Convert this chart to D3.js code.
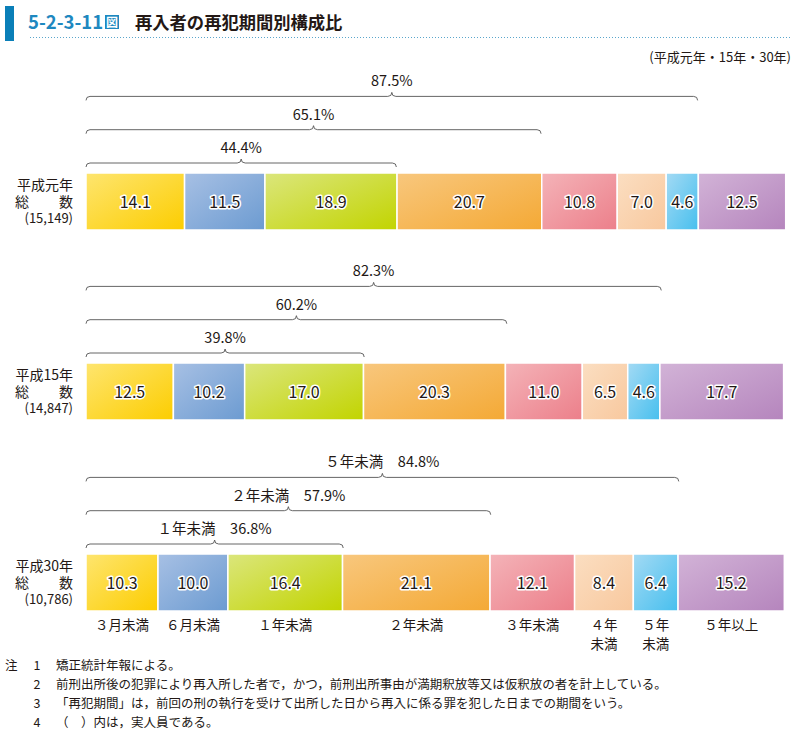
<!DOCTYPE html>
<html><head><meta charset="utf-8">
<script src="https://cdn.jsdelivr.net/npm/d3@7"></script>
<style>
body{margin:0;background:#fff;}
text{font-family:"Noto Sans CJK JP","Noto Sans",sans-serif;}
</style></head>
<body>
<script>
const years = ["平成元年","平成15年","平成30年"];
const totals = ["(15,149)","(14,847)","(10,786)"];
const periods = ["３月未満","６月未満","１年未満","２年未満","３年未満","４年\n未満","５年\n未満","５年以上"];
const values1 = [14.1,11.5,18.9,20.7,10.8,7.0,4.6,12.5];
const values15 = [12.5,10.2,17.0,20.3,11.0,6.5,4.6,17.7];
const values30 = [10.3,10.0,16.4,21.1,12.1,8.4,6.4,15.2];
const brackets1 = [44.4,65.1,87.5];
const brackets15 = [39.8,60.2,82.3];
const brackets30 = [36.8,57.9,84.8];
const bracketPrefix30 = ["１年未満　","２年未満　","５年未満　"];
const colorsLight = ["#fee56f","#a7c0e4","#dbe67c","#f8c77d","#f4b3b8","#fbdec1","#a3daf4","#d2b3d7"];
const colorsDark  = ["#fccd00","#6c9bd1","#c2d400","#f4a935","#ec7f8a","#f8c89e","#47bfee","#b585bd"];
const notes = ["矯正統計年報による。","前刑出所後の犯罪により再入所した者で，かつ，前刑出所事由が満期釈放等又は仮釈放の者を計上している。","「再犯期間」は，前回の刑の執行を受けて出所した日から再入に係る罪を犯した日までの期間をいう。","（　）内は，実人員である。"];

const rows = [
  {year:years[0], total:totals[0], values:values1, brackets:brackets1, prefix:["","",""], top:173},
  {year:years[1], total:totals[1], values:values15, brackets:brackets15, prefix:["","",""], top:363},
  {year:years[2], total:totals[2], values:values30, brackets:brackets30, prefix:bracketPrefix30, top:554}
];

const W=796,H=732;
const svg = d3.select("body").append("svg").attr("width",W).attr("height",H);
const defs = svg.append("defs");
colorsLight.forEach((c,i)=>{
  const g = defs.append("linearGradient").attr("id","g"+i).attr("x1",0).attr("y1",0).attr("x2",1).attr("y2",1);
  g.append("stop").attr("offset","0%").attr("stop-color",c);
  g.append("stop").attr("offset","100%").attr("stop-color",colorsDark[i]);
});

// Title
svg.append("rect").attr("x",5).attr("y",6).attr("width",9).attr("height",35).attr("fill","#0a7fb8");
svg.append("text").attr("x",28).attr("y",29).attr("font-size",18.5).attr("font-weight","bold").attr("fill","#1e88c0").text("5-2-3-11");
svg.append("rect").attr("x",105).attr("y",15).attr("width",14).attr("height",14).attr("fill","#1e88c0");
svg.append("text").attr("x",112).attr("y",27).attr("text-anchor","middle").attr("font-size",12).attr("font-weight","bold").attr("fill","#fff").text("図");
svg.append("text").attr("x",135).attr("y",29).attr("font-size",17.3).attr("font-weight","bold").attr("fill","#231815").text("再入者の再犯期間別構成比");
svg.append("line").attr("x1",30).attr("x2",792).attr("y1",37.5).attr("y2",37.5).attr("stroke","#5aa6cc").attr("stroke-width",1).attr("stroke-dasharray","1,2");
svg.append("text").attr("x",791).attr("y",62).attr("text-anchor","end").attr("font-size",13).attr("fill","#231815").text("(平成元年・15年・30年)");

const x = d3.scaleLinear().domain([0,100]).range([86,785]);
const barH = 57;

function bracePath(x0,x1,y){
  const m=(x0+x1)/2, r=4;
  return `M${x0},${y+4} Q${x0},${y} ${x0+r},${y} L${m-4},${y} Q${m},${y} ${m},${y-4} Q${m},${y} ${m+4},${y} L${x1-r},${y} Q${x1},${y} ${x1},${y+4}`;
}

rows.forEach((row,ri)=>{
  const g = svg.append("g");
  const y0 = row.top;
  // left labels
  g.append("text").attr("x",73).attr("y",y0+17).attr("text-anchor","end").attr("font-size",14).attr("fill","#231815").text(row.year);
  g.append("text").attr("x",15).attr("y",y0+34).attr("font-size",14).attr("fill","#231815").text("総");
  g.append("text").attr("x",73).attr("y",y0+34).attr("text-anchor","end").attr("font-size",14).attr("fill","#231815").text("数");
  g.append("text").attr("x",73).attr("y",y0+50).attr("text-anchor","end").attr("font-size",13).attr("fill","#231815").text(row.total);
  // segments
  let cum=0;
  const segs=row.values.map((v,i)=>{const s={v,i,start:cum}; cum+=v; return s;});
  g.selectAll("rect.seg").data(segs).enter().append("rect").attr("class","seg")
    .attr("x",d=>x(d.start)).attr("y",y0).attr("width",d=>x(d.start+d.v)-x(d.start)).attr("height",barH)
    .attr("fill",d=>"url(#g"+d.i+")").attr("stroke","#fff").attr("stroke-width",1.5);
  g.selectAll("text.val").data(segs).enter().append("text").attr("class","val")
    .attr("x",d=>x(d.start+d.v/2)).attr("y",y0+barH/2+6).attr("text-anchor","middle")
    .attr("font-size",16).attr("fill","#231815").attr("stroke","#fff").attr("stroke-width",3)
    .attr("paint-order","stroke").attr("stroke-linejoin","round").text(d=>d.v.toFixed(1));
  // brackets
  row.brackets.forEach((b,bi)=>{
    const by = y0-10-bi*33.3;
    g.append("path").attr("d",bracePath(x(0),x(b),by)).attr("fill","none").attr("stroke","#555").attr("stroke-width",0.9);
    g.append("text").attr("x",(x(0)+x(b))/2).attr("y",by-10).attr("text-anchor","middle").attr("font-size",14.5).attr("fill","#231815").text(row.prefix[bi]+b.toFixed(1)+"%");
  });
  // period labels under last bar
  if(ri===2){
    g.selectAll("text.per").data(segs).enter().append("text").attr("class","per")
      .attr("x",d=>x(d.start+d.v/2)).attr("y",y0+barH+19).attr("text-anchor","middle").attr("font-size",13.5).attr("fill","#231815")
      .each(function(d){
        const lines=periods[d.i].split("\n");
        lines.forEach((l,li)=>d3.select(this).append("tspan").attr("x",x(d.start+d.v/2)).attr("dy",li===0?0:19).text(l));
      });
  }
});

// notes
svg.append("text").attr("x",5).attr("y",670).attr("font-size",12.5).attr("fill","#231815").text("注");
notes.forEach((n,i)=>{
  svg.append("text").attr("x",37).attr("y",670+i*19).attr("text-anchor","middle").attr("font-size",12.5).attr("fill","#231815").text(i+1);
  svg.append("text").attr("x",56).attr("y",670+i*19).attr("font-size",12.5).attr("fill","#231815").text(n);
});
</script>
</body></html>
